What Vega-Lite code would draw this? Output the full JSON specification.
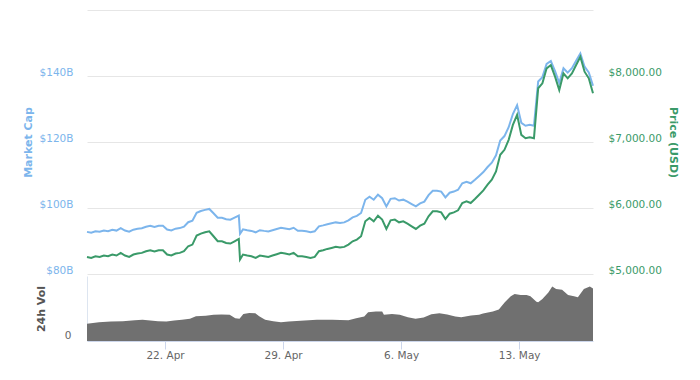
{
  "$schema": "https://vega.github.io/schema/vega-lite/v6.json",
  "padding": {"left": 22, "top": 10, "right": 5, "bottom": 5},
  "spacing": 0,
  "datasets": {
    "price": [
      {"t": "2019-04-17T09:00:00", "price": 5259, "mcap": 92.77},
      {"t": "2019-04-17T15:00:00", "price": 5244, "mcap": 92.51},
      {"t": "2019-04-17T21:00:00", "price": 5269, "mcap": 92.95},
      {"t": "2019-04-18T03:00:00", "price": 5259, "mcap": 92.78},
      {"t": "2019-04-18T09:00:00", "price": 5280, "mcap": 93.15},
      {"t": "2019-04-18T15:00:00", "price": 5269, "mcap": 92.96},
      {"t": "2019-04-18T21:00:00", "price": 5295, "mcap": 93.42},
      {"t": "2019-04-19T03:00:00", "price": 5280, "mcap": 93.16},
      {"t": "2019-04-19T09:00:00", "price": 5320, "mcap": 93.87},
      {"t": "2019-04-19T15:00:00", "price": 5280, "mcap": 93.17},
      {"t": "2019-04-19T21:00:00", "price": 5259, "mcap": 92.80},
      {"t": "2019-04-20T03:00:00", "price": 5295, "mcap": 93.44},
      {"t": "2019-04-20T09:00:00", "price": 5310, "mcap": 93.71},
      {"t": "2019-04-20T15:00:00", "price": 5320, "mcap": 93.89},
      {"t": "2019-04-20T21:00:00", "price": 5345, "mcap": 94.33},
      {"t": "2019-04-21T03:00:00", "price": 5360, "mcap": 94.60},
      {"t": "2019-04-21T09:00:00", "price": 5340, "mcap": 94.25},
      {"t": "2019-04-21T15:00:00", "price": 5360, "mcap": 94.60},
      {"t": "2019-04-21T21:00:00", "price": 5360, "mcap": 94.61},
      {"t": "2019-04-22T03:00:00", "price": 5295, "mcap": 93.46},
      {"t": "2019-04-22T09:00:00", "price": 5280, "mcap": 93.20},
      {"t": "2019-04-22T15:00:00", "price": 5310, "mcap": 93.73},
      {"t": "2019-04-22T21:00:00", "price": 5320, "mcap": 93.91},
      {"t": "2019-04-23T03:00:00", "price": 5345, "mcap": 94.36},
      {"t": "2019-04-23T09:00:00", "price": 5421, "mcap": 95.70},
      {"t": "2019-04-23T15:00:00", "price": 5446, "mcap": 96.15},
      {"t": "2019-04-23T21:00:00", "price": 5582, "mcap": 98.55},
      {"t": "2019-04-24T03:00:00", "price": 5612, "mcap": 99.08},
      {"t": "2019-04-24T09:00:00", "price": 5632, "mcap": 99.44},
      {"t": "2019-04-24T15:00:00", "price": 5647, "mcap": 99.71},
      {"t": "2019-04-24T21:00:00", "price": 5572, "mcap": 98.39},
      {"t": "2019-04-25T03:00:00", "price": 5496, "mcap": 97.05},
      {"t": "2019-04-25T09:00:00", "price": 5496, "mcap": 97.05},
      {"t": "2019-04-25T15:00:00", "price": 5471, "mcap": 96.61},
      {"t": "2019-04-25T21:00:00", "price": 5461, "mcap": 96.44},
      {"t": "2019-04-26T03:00:00", "price": 5496, "mcap": 97.06},
      {"t": "2019-04-26T09:00:00", "price": 5531, "mcap": 97.68},
      {"t": "2019-04-26T10:45:00", "price": 5219, "mcap": 92.17},
      {"t": "2019-04-26T15:00:00", "price": 5295, "mcap": 93.52},
      {"t": "2019-04-26T21:00:00", "price": 5280, "mcap": 93.26},
      {"t": "2019-04-27T03:00:00", "price": 5269, "mcap": 93.06},
      {"t": "2019-04-27T09:00:00", "price": 5244, "mcap": 92.63},
      {"t": "2019-04-27T15:00:00", "price": 5280, "mcap": 93.27},
      {"t": "2019-04-27T21:00:00", "price": 5269, "mcap": 93.07},
      {"t": "2019-04-28T03:00:00", "price": 5259, "mcap": 92.90},
      {"t": "2019-04-28T09:00:00", "price": 5280, "mcap": 93.27},
      {"t": "2019-04-28T15:00:00", "price": 5300, "mcap": 93.63},
      {"t": "2019-04-28T21:00:00", "price": 5320, "mcap": 93.99},
      {"t": "2019-04-29T03:00:00", "price": 5310, "mcap": 93.81},
      {"t": "2019-04-29T09:00:00", "price": 5295, "mcap": 93.55},
      {"t": "2019-04-29T15:00:00", "price": 5320, "mcap": 94.00},
      {"t": "2019-04-29T21:00:00", "price": 5269, "mcap": 93.10},
      {"t": "2019-04-30T03:00:00", "price": 5269, "mcap": 93.10},
      {"t": "2019-04-30T09:00:00", "price": 5259, "mcap": 92.93},
      {"t": "2019-04-30T15:00:00", "price": 5244, "mcap": 92.67},
      {"t": "2019-04-30T21:00:00", "price": 5259, "mcap": 92.93},
      {"t": "2019-05-01T03:00:00", "price": 5345, "mcap": 94.46},
      {"t": "2019-05-01T09:00:00", "price": 5360, "mcap": 94.73},
      {"t": "2019-05-01T15:00:00", "price": 5380, "mcap": 95.08},
      {"t": "2019-05-01T21:00:00", "price": 5395, "mcap": 95.35},
      {"t": "2019-05-02T03:00:00", "price": 5411, "mcap": 95.64},
      {"t": "2019-05-02T09:00:00", "price": 5400, "mcap": 95.45},
      {"t": "2019-05-02T15:00:00", "price": 5411, "mcap": 95.64},
      {"t": "2019-05-02T21:00:00", "price": 5446, "mcap": 96.26},
      {"t": "2019-05-03T03:00:00", "price": 5496, "mcap": 97.15},
      {"t": "2019-05-03T09:00:00", "price": 5521, "mcap": 97.60},
      {"t": "2019-05-03T15:00:00", "price": 5572, "mcap": 98.50},
      {"t": "2019-05-03T21:00:00", "price": 5798, "mcap": 102.50},
      {"t": "2019-05-04T03:00:00", "price": 5849, "mcap": 103.41},
      {"t": "2019-05-04T09:00:00", "price": 5798, "mcap": 102.51},
      {"t": "2019-05-04T15:00:00", "price": 5884, "mcap": 104.03},
      {"t": "2019-05-04T21:00:00", "price": 5824, "mcap": 102.97},
      {"t": "2019-05-05T03:00:00", "price": 5683, "mcap": 100.48},
      {"t": "2019-05-05T09:00:00", "price": 5813, "mcap": 102.79},
      {"t": "2019-05-05T15:00:00", "price": 5824, "mcap": 102.98},
      {"t": "2019-05-05T21:00:00", "price": 5783, "mcap": 102.26},
      {"t": "2019-05-06T03:00:00", "price": 5798, "mcap": 102.53},
      {"t": "2019-05-06T09:00:00", "price": 5763, "mcap": 101.91},
      {"t": "2019-05-06T15:00:00", "price": 5723, "mcap": 101.21},
      {"t": "2019-05-06T21:00:00", "price": 5683, "mcap": 100.51},
      {"t": "2019-05-07T03:00:00", "price": 5733, "mcap": 101.39},
      {"t": "2019-05-07T09:00:00", "price": 5763, "mcap": 101.93},
      {"t": "2019-05-07T15:00:00", "price": 5874, "mcap": 103.90},
      {"t": "2019-05-07T21:00:00", "price": 5950, "mcap": 105.24},
      {"t": "2019-05-08T03:00:00", "price": 5950, "mcap": 105.25},
      {"t": "2019-05-08T09:00:00", "price": 5934, "mcap": 104.97},
      {"t": "2019-05-08T15:00:00", "price": 5834, "mcap": 103.20},
      {"t": "2019-05-08T21:00:00", "price": 5914, "mcap": 104.62},
      {"t": "2019-05-09T03:00:00", "price": 5934, "mcap": 104.98},
      {"t": "2019-05-09T09:00:00", "price": 5965, "mcap": 105.53},
      {"t": "2019-05-09T15:00:00", "price": 6076, "mcap": 107.50},
      {"t": "2019-05-09T21:00:00", "price": 6101, "mcap": 107.94},
      {"t": "2019-05-10T03:00:00", "price": 6076, "mcap": 107.50},
      {"t": "2019-05-10T09:00:00", "price": 6136, "mcap": 108.57},
      {"t": "2019-05-10T15:00:00", "price": 6201, "mcap": 109.72},
      {"t": "2019-05-10T21:00:00", "price": 6267, "mcap": 110.89},
      {"t": "2019-05-11T03:00:00", "price": 6353, "mcap": 112.42},
      {"t": "2019-05-11T09:00:00", "price": 6428, "mcap": 113.75},
      {"t": "2019-05-11T15:00:00", "price": 6554, "mcap": 115.98},
      {"t": "2019-05-11T21:00:00", "price": 6806, "mcap": 120.45},
      {"t": "2019-05-12T03:00:00", "price": 6882, "mcap": 121.80},
      {"t": "2019-05-12T09:00:00", "price": 7033, "mcap": 124.47},
      {"t": "2019-05-12T15:00:00", "price": 7259, "mcap": 128.48},
      {"t": "2019-05-12T21:00:00", "price": 7411, "mcap": 131.17},
      {"t": "2019-05-13T03:00:00", "price": 7108, "mcap": 125.81},
      {"t": "2019-05-13T09:00:00", "price": 7058, "mcap": 124.93},
      {"t": "2019-05-13T15:00:00", "price": 7073, "mcap": 125.20},
      {"t": "2019-05-13T21:00:00", "price": 7058, "mcap": 124.94},
      {"t": "2019-05-14T03:00:00", "price": 7814, "mcap": 138.33},
      {"t": "2019-05-14T09:00:00", "price": 7889, "mcap": 139.66},
      {"t": "2019-05-14T15:00:00", "price": 8116, "mcap": 143.68},
      {"t": "2019-05-14T21:00:00", "price": 8166, "mcap": 144.57},
      {"t": "2019-05-15T03:00:00", "price": 7990, "mcap": 141.46},
      {"t": "2019-05-15T09:00:00", "price": 7788, "mcap": 137.89},
      {"t": "2019-05-15T15:00:00", "price": 8040, "mcap": 142.36},
      {"t": "2019-05-15T21:00:00", "price": 7965, "mcap": 141.03},
      {"t": "2019-05-16T03:00:00", "price": 8040, "mcap": 142.37},
      {"t": "2019-05-16T09:00:00", "price": 8166, "mcap": 144.60},
      {"t": "2019-05-16T15:00:00", "price": 8292, "mcap": 146.84},
      {"t": "2019-05-16T21:00:00", "price": 8065, "mcap": 142.82},
      {"t": "2019-05-17T03:00:00", "price": 7965, "mcap": 141.06},
      {"t": "2019-05-17T09:00:00", "price": 7738, "mcap": 137.04}
    ],
    "vol": [
      {"t": "2019-04-17T09:00:00", "vol": 9.26},
      {"t": "2019-04-18T02:00:00", "vol": 10.15},
      {"t": "2019-04-18T19:00:00", "vol": 10.51},
      {"t": "2019-04-19T12:00:00", "vol": 10.69},
      {"t": "2019-04-20T05:00:00", "vol": 11.22},
      {"t": "2019-04-20T16:00:00", "vol": 11.40},
      {"t": "2019-04-21T03:00:00", "vol": 11.04},
      {"t": "2019-04-21T14:00:00", "vol": 10.69},
      {"t": "2019-04-22T02:00:00", "vol": 10.51},
      {"t": "2019-04-22T13:00:00", "vol": 11.04},
      {"t": "2019-04-23T00:00:00", "vol": 11.40},
      {"t": "2019-04-23T11:30:00", "vol": 11.93},
      {"t": "2019-04-23T20:00:00", "vol": 13.36},
      {"t": "2019-04-24T10:00:00", "vol": 13.54},
      {"t": "2019-04-24T21:00:00", "vol": 14.07},
      {"t": "2019-04-25T08:30:00", "vol": 14.25},
      {"t": "2019-04-25T20:00:00", "vol": 14.07},
      {"t": "2019-04-26T04:00:00", "vol": 12.29},
      {"t": "2019-04-26T10:00:00", "vol": 11.93},
      {"t": "2019-04-26T15:30:00", "vol": 14.60},
      {"t": "2019-04-27T00:00:00", "vol": 15.14},
      {"t": "2019-04-27T08:30:00", "vol": 14.96},
      {"t": "2019-04-27T14:00:00", "vol": 13.36},
      {"t": "2019-04-27T22:30:00", "vol": 11.40},
      {"t": "2019-04-28T10:00:00", "vol": 10.69},
      {"t": "2019-04-28T21:00:00", "vol": 10.15},
      {"t": "2019-04-29T08:00:00", "vol": 10.51},
      {"t": "2019-04-30T01:00:00", "vol": 10.86},
      {"t": "2019-05-01T00:00:00", "vol": 11.40},
      {"t": "2019-05-01T22:00:00", "vol": 11.40},
      {"t": "2019-05-02T21:00:00", "vol": 11.22},
      {"t": "2019-05-03T08:00:00", "vol": 12.29},
      {"t": "2019-05-03T19:30:00", "vol": 13.18},
      {"t": "2019-05-04T01:00:00", "vol": 15.49},
      {"t": "2019-05-04T12:00:00", "vol": 15.85},
      {"t": "2019-05-04T21:00:00", "vol": 15.85},
      {"t": "2019-05-04T23:30:00", "vol": 14.07},
      {"t": "2019-05-05T11:00:00", "vol": 14.60},
      {"t": "2019-05-05T22:00:00", "vol": 14.07},
      {"t": "2019-05-06T09:30:00", "vol": 12.82},
      {"t": "2019-05-06T20:30:00", "vol": 11.93},
      {"t": "2019-05-07T08:00:00", "vol": 12.65},
      {"t": "2019-05-07T19:00:00", "vol": 14.43},
      {"t": "2019-05-08T06:30:00", "vol": 14.96},
      {"t": "2019-05-08T17:30:00", "vol": 14.25},
      {"t": "2019-05-09T05:00:00", "vol": 13.18},
      {"t": "2019-05-09T13:30:00", "vol": 12.82},
      {"t": "2019-05-10T03:30:00", "vol": 13.71},
      {"t": "2019-05-10T15:00:00", "vol": 14.07},
      {"t": "2019-05-10T20:30:00", "vol": 14.78},
      {"t": "2019-05-11T10:30:00", "vol": 15.85},
      {"t": "2019-05-11T19:00:00", "vol": 16.92},
      {"t": "2019-05-12T03:30:00", "vol": 20.84},
      {"t": "2019-05-12T12:00:00", "vol": 24.04},
      {"t": "2019-05-12T17:30:00", "vol": 25.29},
      {"t": "2019-05-13T02:00:00", "vol": 24.76},
      {"t": "2019-05-13T10:30:00", "vol": 24.76},
      {"t": "2019-05-13T16:00:00", "vol": 24.04},
      {"t": "2019-05-14T00:30:00", "vol": 21.19},
      {"t": "2019-05-14T03:00:00", "vol": 20.84},
      {"t": "2019-05-14T09:00:00", "vol": 22.62},
      {"t": "2019-05-14T17:30:00", "vol": 26.18},
      {"t": "2019-05-14T23:00:00", "vol": 29.39},
      {"t": "2019-05-15T04:30:00", "vol": 27.96},
      {"t": "2019-05-15T13:00:00", "vol": 27.61},
      {"t": "2019-05-15T21:30:00", "vol": 24.76},
      {"t": "2019-05-16T06:00:00", "vol": 24.04},
      {"t": "2019-05-16T11:30:00", "vol": 23.51},
      {"t": "2019-05-16T20:00:00", "vol": 27.96},
      {"t": "2019-05-17T04:30:00", "vol": 29.39},
      {"t": "2019-05-17T09:00:00", "vol": 28.32}
    ]
  },
  "vconcat": [
    {
      "width": 506,
      "height": 264,
      "data": {"name": "price"},
      "layer": [
        {
          "mark": {"type": "line", "color": "#7cb5ec", "strokeWidth": 2, "interpolate": "linear"},
          "encoding": {
            "x": {
              "field": "t", "type": "temporal", "axis": null,
              "scale": {"domain": [{"year": 2019, "month": 4, "date": 17, "hours": 9}, {"year": 2019, "month": 5, "date": 17, "hours": 9}]}
            },
            "y": {
              "field": "mcap", "type": "quantitative",
              "scale": {"domain": [80, 160], "nice": false, "zero": false},
              "axis": {
                "orient": "left",
                "values": [80, 100, 120, 140, 160],
                "labelExpr": "datum.value >= 160 ? '' : '$' + datum.value + 'B'",
                "title": "Market Cap",
                "titleColor": "#7cb5ec",
                "titleFontSize": 11,
                "titleFontWeight": "bold",
                "titlePadding": 6,
                "labelColor": "#7cb5ec",
                "labelPadding": 14,
                "labelBaseline": "alphabetic",
                "labelOffset": -1,
                "ticks": false,
                "domain": false,
                "grid": true,
                "gridColor": "#e6e6e6"
              }
            }
          }
        },
        {
          "mark": {"type": "line", "color": "#3a9a69", "strokeWidth": 2, "interpolate": "linear"},
          "encoding": {
            "x": {
              "field": "t", "type": "temporal", "axis": null,
              "scale": {"domain": [{"year": 2019, "month": 4, "date": 17, "hours": 9}, {"year": 2019, "month": 5, "date": 17, "hours": 9}]}
            },
            "y": {
              "field": "price", "type": "quantitative",
              "scale": {"domain": [5000, 9000], "nice": false, "zero": false},
              "axis": {
                "orient": "right",
                "values": [5000, 6000, 7000, 8000, 9000],
                "labelExpr": "datum.value >= 9000 ? '' : format(datum.value, '$,.2f')",
                "title": "Price (USD)",
                "titleColor": "#3a9a69",
                "titleFontSize": 11,
                "titleFontWeight": "bold",
                "titlePadding": 6,
                "labelColor": "#3a9a69",
                "labelPadding": 15,
                "labelBaseline": "alphabetic",
                "labelOffset": -1,
                "ticks": false,
                "domain": false,
                "grid": false
              }
            }
          }
        }
      ],
      "resolve": {"scale": {"y": "independent"}}
    },
    {
      "width": 506,
      "height": 65,
      "data": {"name": "vol"},
      "mark": {"type": "area", "color": "#707070", "interpolate": "linear"},
      "encoding": {
        "x": {
          "field": "t", "type": "temporal",
          "scale": {"domain": [{"year": 2019, "month": 4, "date": 17, "hours": 9}, {"year": 2019, "month": 5, "date": 17, "hours": 9}]},
          "axis": {
            "title": null,
            "values": [{"year": 2019, "month": 4, "date": 22}, {"year": 2019, "month": 4, "date": 29}, {"year": 2019, "month": 5, "date": 6}, {"year": 2019, "month": 5, "date": 13}],
            "format": "%-d. %b",
            "labelColor": "#666666",
            "tickColor": "#ccd6eb",
            "tickSize": 8,
            "labelPadding": 1,
            "domainColor": "#ccd6eb",
            "grid": false
          }
        },
        "y": {
          "field": "vol", "type": "quantitative",
          "scale": {"domain": [0, 35], "nice": false},
          "axis": {
            "values": [0],
            "title": "24h Vol",
            "titleColor": "#555555",
            "titleFontSize": 11,
            "titleFontWeight": "bold",
            "titlePadding": 18,
            "labelColor": "#666666",
            "labelPadding": 16,
            "labelBaseline": "alphabetic",
            "labelOffset": -3,
            "ticks": false,
            "domain": true,
            "domainColor": "#dde5f0",
            "grid": false
          }
        }
      }
    }
  ],
  "config": {
    "view": {"stroke": null},
    "font": "DejaVu Sans",
    "axis": {"labelFont": "DejaVu Sans", "titleFont": "DejaVu Sans", "labelFontSize": 10.5}
  }
}
